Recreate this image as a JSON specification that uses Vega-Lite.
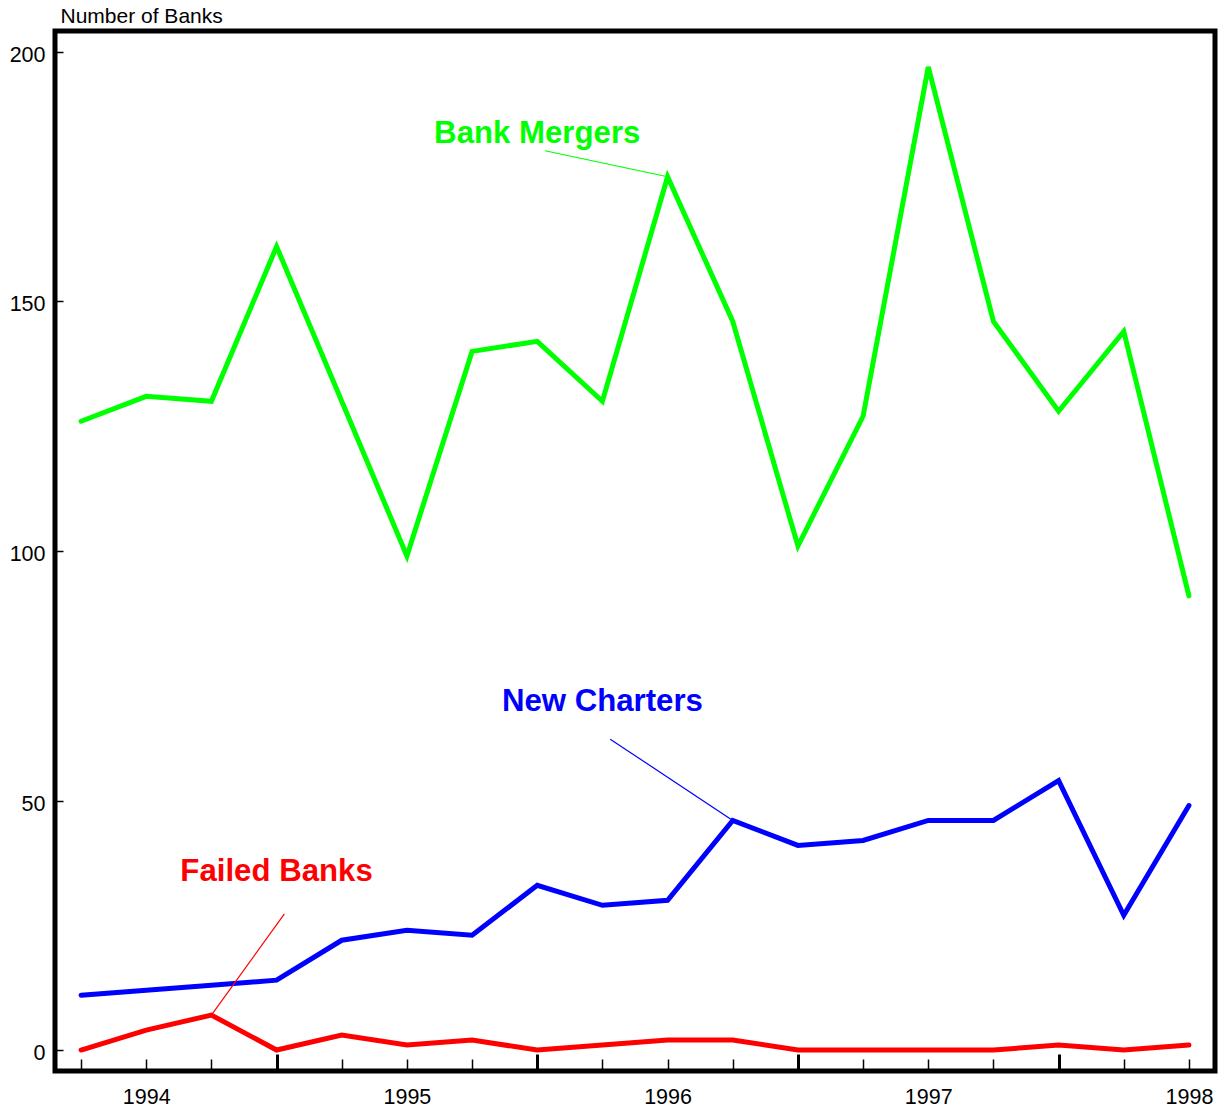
{
  "$schema": "https://vega.github.io/schema/vega-lite/v6.json",
  "width": 1160,
  "height": 1040,
  "autosize": {"type": "none"},
  "padding": {"left": 55, "top": 31, "right": 15, "bottom": 41},
  "background": "white",
  "config": {
    "view": {"stroke": "black", "strokeWidth": 5},
    "font": "Liberation Sans"
  },
  "datasets": {
    "series": [
      {"date": 1993.75, "series": "Bank Mergers", "value": 126},
      {"date": 1994.0, "series": "Bank Mergers", "value": 131},
      {"date": 1994.25, "series": "Bank Mergers", "value": 130},
      {"date": 1994.5, "series": "Bank Mergers", "value": 161},
      {"date": 1994.75, "series": "Bank Mergers", "value": 130},
      {"date": 1995.0, "series": "Bank Mergers", "value": 99},
      {"date": 1995.25, "series": "Bank Mergers", "value": 140},
      {"date": 1995.5, "series": "Bank Mergers", "value": 142},
      {"date": 1995.75, "series": "Bank Mergers", "value": 130},
      {"date": 1996.0, "series": "Bank Mergers", "value": 175},
      {"date": 1996.25, "series": "Bank Mergers", "value": 146},
      {"date": 1996.5, "series": "Bank Mergers", "value": 101},
      {"date": 1996.75, "series": "Bank Mergers", "value": 127},
      {"date": 1997.0, "series": "Bank Mergers", "value": 197},
      {"date": 1997.25, "series": "Bank Mergers", "value": 146},
      {"date": 1997.5, "series": "Bank Mergers", "value": 128},
      {"date": 1997.75, "series": "Bank Mergers", "value": 144},
      {"date": 1998.0, "series": "Bank Mergers", "value": 91},
      {"date": 1993.75, "series": "New Charters", "value": 11},
      {"date": 1994.0, "series": "New Charters", "value": 12},
      {"date": 1994.25, "series": "New Charters", "value": 13},
      {"date": 1994.5, "series": "New Charters", "value": 14},
      {"date": 1994.75, "series": "New Charters", "value": 22},
      {"date": 1995.0, "series": "New Charters", "value": 24},
      {"date": 1995.25, "series": "New Charters", "value": 23},
      {"date": 1995.5, "series": "New Charters", "value": 33},
      {"date": 1995.75, "series": "New Charters", "value": 29},
      {"date": 1996.0, "series": "New Charters", "value": 30},
      {"date": 1996.25, "series": "New Charters", "value": 46},
      {"date": 1996.5, "series": "New Charters", "value": 41},
      {"date": 1996.75, "series": "New Charters", "value": 42},
      {"date": 1997.0, "series": "New Charters", "value": 46},
      {"date": 1997.25, "series": "New Charters", "value": 46},
      {"date": 1997.5, "series": "New Charters", "value": 54},
      {"date": 1997.75, "series": "New Charters", "value": 27},
      {"date": 1998.0, "series": "New Charters", "value": 49},
      {"date": 1993.75, "series": "Failed Banks", "value": 0},
      {"date": 1994.0, "series": "Failed Banks", "value": 4},
      {"date": 1994.25, "series": "Failed Banks", "value": 7},
      {"date": 1994.5, "series": "Failed Banks", "value": 0},
      {"date": 1994.75, "series": "Failed Banks", "value": 3},
      {"date": 1995.0, "series": "Failed Banks", "value": 1},
      {"date": 1995.25, "series": "Failed Banks", "value": 2},
      {"date": 1995.5, "series": "Failed Banks", "value": 0},
      {"date": 1995.75, "series": "Failed Banks", "value": 1},
      {"date": 1996.0, "series": "Failed Banks", "value": 2},
      {"date": 1996.25, "series": "Failed Banks", "value": 2},
      {"date": 1996.5, "series": "Failed Banks", "value": 0},
      {"date": 1996.75, "series": "Failed Banks", "value": 0},
      {"date": 1997.0, "series": "Failed Banks", "value": 0},
      {"date": 1997.25, "series": "Failed Banks", "value": 0},
      {"date": 1997.5, "series": "Failed Banks", "value": 1},
      {"date": 1997.75, "series": "Failed Banks", "value": 0},
      {"date": 1998.0, "series": "Failed Banks", "value": 1}
    ],
    "labels": [
      {"series": "Bank Mergers", "lx": 1995.5, "ly": 181.8, "x1": 1995.53, "y1": 180.2, "x2": 1996.0, "y2": 175},
      {"series": "New Charters", "lx": 1995.75, "ly": 67.9, "x1": 1995.78, "y1": 62.3, "x2": 1996.25, "y2": 46},
      {"series": "Failed Banks", "lx": 1994.5, "ly": 33.9, "x1": 1994.53, "y1": 27.3, "x2": 1994.25, "y2": 7}
    ]
  },
  "layer": [
    {
      "data": {"name": "series"},
      "mark": {"type": "line", "strokeWidth": 5, "strokeCap": "round", "strokeJoin": "miter"},
      "encoding": {
        "x": {
          "field": "date",
          "type": "quantitative",
          "scale": {"domain": [1993.65, 1998.1], "nice": false, "zero": false},
          "axis": {
            "title": null,
            "grid": false,
            "domain": false,
            "values": [1993.75, 1994, 1994.25, 1994.5, 1994.75, 1995, 1995.25, 1995.5, 1995.75, 1996, 1996.25, 1996.5, 1996.75, 1997, 1997.25, 1997.5, 1997.75, 1998],
            "labelExpr": "datum.value % 1 === 0 ? format(datum.value, 'd') : ''",
            "labelFontSize": 21.5,
            "labelColor": "black",
            "labelFlush": false,
            "labelOverlap": false,
            "labelPadding": 27,
            "tickColor": "black",
            "tickSize": {"condition": {"test": "datum.value % 1 === 0.5", "value": -17}, "value": -12},
            "tickWidth": {"condition": {"test": "datum.value % 1 === 0.5", "value": 3}, "value": 1.5}
          }
        },
        "y": {
          "field": "value",
          "type": "quantitative",
          "scale": {"domain": [-4.2, 204.2], "nice": false, "zero": false},
          "axis": {
            "values": [0, 50, 100, 150, 200],
            "grid": false,
            "domain": false,
            "tickColor": "black",
            "tickSize": -8,
            "tickWidth": 1.5,
            "labelFontSize": 21.5,
            "labelColor": "black",
            "labelPadding": 18,
            "labelOffset": 3.5,
            "labelFlush": false,
            "title": "Number of Banks",
            "titleAngle": 0,
            "titleAlign": "left",
            "titleBaseline": "alphabetic",
            "titleX": 5,
            "titleY": -9,
            "titleFontSize": 21,
            "titleFontWeight": "normal",
            "titleColor": "black"
          }
        },
        "color": {
          "field": "series",
          "type": "nominal",
          "scale": {"domain": ["Bank Mergers", "New Charters", "Failed Banks"], "range": ["#00ff00", "#0000ff", "#ff0000"]},
          "legend": null
        }
      }
    },
    {
      "data": {"name": "labels"},
      "mark": {"type": "rule", "strokeWidth": 1.2},
      "encoding": {
        "x": {"field": "x1", "type": "quantitative"},
        "y": {"field": "y1", "type": "quantitative"},
        "x2": {"field": "x2"},
        "y2": {"field": "y2"},
        "color": {"field": "series", "type": "nominal", "legend": null}
      }
    },
    {
      "data": {"name": "labels"},
      "mark": {"type": "text", "fontSize": 31.2, "fontWeight": "bold", "align": "center", "baseline": "alphabetic"},
      "encoding": {
        "x": {"field": "lx", "type": "quantitative"},
        "y": {"field": "ly", "type": "quantitative"},
        "text": {"field": "series"},
        "color": {"field": "series", "type": "nominal", "legend": null}
      }
    }
  ]
}
